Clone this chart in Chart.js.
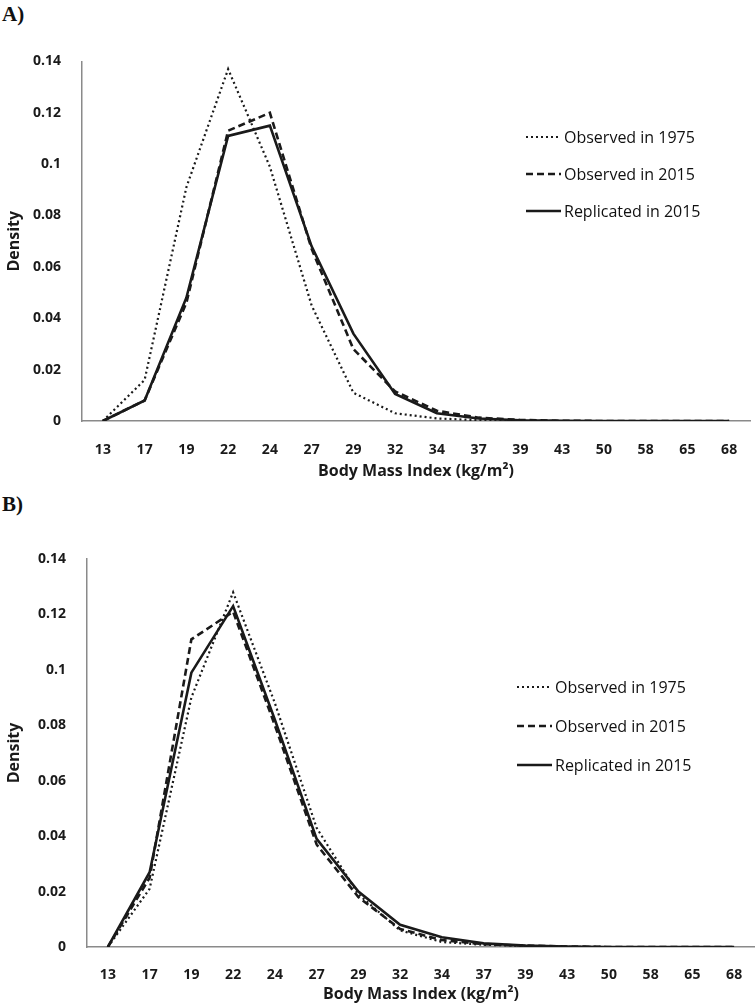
<!DOCTYPE html>
<html>
<head>
<meta charset="utf-8">
<script src="https://cdn.jsdelivr.net/npm/chart.js@4.4.1/dist/chart.umd.min.js"></script>
<style>
  body { margin: 0; background: #fff; width: 755px; height: 1004px; position: relative; overflow: hidden; }
  .tag { position: absolute; left: 2px; font: bold 21px "Liberation Serif", serif; color: #111; }
  canvas { position: absolute; left: 0; }
</style>
</head>
<body>
<div class="tag" style="top:2px">A)</div>
<canvas id="chartA" width="755" height="445" style="top:40px"></canvas>
<div class="tag" style="top:492px">B)</div>
<canvas id="chartB" width="755" height="484" style="top:520px"></canvas>
<script>
const bmiLabels = ["13", "17", "19", "22", "24", "27", "29", "32", "34", "37", "39", "43", "50", "58", "65", "68"];
const seriesNames = ["Observed in 1975", "Observed in 2015", "Replicated in 2015"];

// panel A
const obs1975A = [0, 0.016, 0.091, 0.137, 0.099, 0.045, 0.011, 0.003, 0.001, 0.0003, 0.0001, 0, 0, 0, 0, 0];
const obs2015A = [0, 0.008, 0.046, 0.113, 0.120, 0.067, 0.028, 0.0115, 0.004, 0.0013, 0.0004, 0.0001, 0, 0, 0, 0];
const rep2015A = [0, 0.008, 0.048, 0.111, 0.115, 0.068, 0.034, 0.0105, 0.003, 0.001, 0.0003, 0.0001, 0, 0, 0, 0];

// panel B
const obs1975B = [0, 0.021, 0.090, 0.128, 0.088, 0.043, 0.019, 0.006, 0.0018, 0.0008, 0.0004, 0.0001, 0, 0, 0, 0];
const obs2015B = [0, 0.025, 0.111, 0.121, 0.080, 0.037, 0.018, 0.0065, 0.0025, 0.001, 0.0005, 0.0002, 0, 0, 0, 0];
const rep2015B = [0, 0.027, 0.099, 0.123, 0.082, 0.039, 0.020, 0.008, 0.0035, 0.0013, 0.0005, 0.0002, 0, 0, 0, 0];

const INK = "#1a1a1a";
const AXIS = "#8a8a8a";

// legend drawn inside the plot, one row per series
const lineKey = {
  id: "lineKey",
  afterDraw(chart, args, opts) {
    const ctx = chart.ctx;
    ctx.save();
    ctx.font = '16px "Open Sans"';
    ctx.textBaseline = "middle";
    chart.data.datasets.forEach((ds, i) => {
      const y = opts.y + i * opts.gap;
      ctx.beginPath();
      ctx.setLineDash(ds.borderDash || []);
      ctx.lineWidth = ds.borderWidth;
      ctx.strokeStyle = ds.borderColor;
      ctx.moveTo(opts.x, y);
      ctx.lineTo(opts.x + 35, y);
      ctx.stroke();
      ctx.setLineDash([]);
      ctx.fillStyle = "#111";
      ctx.fillText(ds.label, opts.x + 38, y + 1);
    });
    ctx.restore();
  }
};

function makeSets(a, b, c) {
  return [
    { label: seriesNames[0], data: a, borderColor: INK, borderWidth: 2.2, borderDash: [2, 3] },
    { label: seriesNames[1], data: b, borderColor: INK, borderWidth: 2.6, borderDash: [7, 4] },
    { label: seriesNames[2], data: c, borderColor: INK, borderWidth: 2.6 }
  ];
}

function drawPanel(id, sets, cfg) {
  new Chart(document.getElementById(id), {
    type: "line",
    data: { labels: bmiLabels, datasets: sets },
    options: {
      responsive: false,
      animation: false,
      devicePixelRatio: 1,
      layout: { padding: { top: cfg.top, right: cfg.right, left: 0, bottom: 0 } },
      elements: { point: { radius: 0 }, line: { tension: 0 } },
      plugins: {
        legend: { display: false },
        tooltip: { enabled: false },
        lineKey: cfg.key
      },
      scales: {
        x: {
          offset: true,
          grid: { display: false },
          border: { display: true, color: AXIS, width: 1.5 },
          ticks: { color: INK, font: { family: "Open Sans", weight: "bold", size: 14 }, padding: cfg.xPad, maxRotation: 0, autoSkip: false },
          title: { display: true, text: "Body Mass Index (kg/m²)", color: INK, font: { family: "Open Sans", weight: "bold", size: 16 }, padding: { top: 0, bottom: cfg.titlePad } },
          afterFit: s => { s.height = cfg.xHeight; }
        },
        y: {
          min: 0,
          max: 0.14,
          grid: { display: false },
          border: { display: true, color: AXIS, width: 1.5 },
          ticks: {
            stepSize: 0.02,
            color: INK,
            padding: 13,
            font: { family: "Open Sans", weight: "bold", size: 14 },
            callback: v => String(Number(v.toFixed(2)))
          },
          title: { display: true, text: "Density", color: INK, font: { family: "Open Sans", weight: "bold", size: 16 }, padding: { top: 5, bottom: 0 } },
          afterFit: s => { s.width = cfg.yWidth; }
        }
      }
    },
    plugins: [lineKey]
  });
}

drawPanel("chartA", makeSets(obs1975A, obs2015A, rep2015A), {
  top: 21, right: 5, yWidth: 82, xHeight: 64, xPad: 13, titlePad: 4,
  key: { x: 526, y: 97, gap: 37 }
});

drawPanel("chartB", makeSets(obs1975B, obs2015B, rep2015B), {
  top: 39, right: 0, yWidth: 87, xHeight: 57, xPad: 12, titlePad: 0,
  key: { x: 517, y: 167, gap: 39 }
});
</script>
</body>
</html>
